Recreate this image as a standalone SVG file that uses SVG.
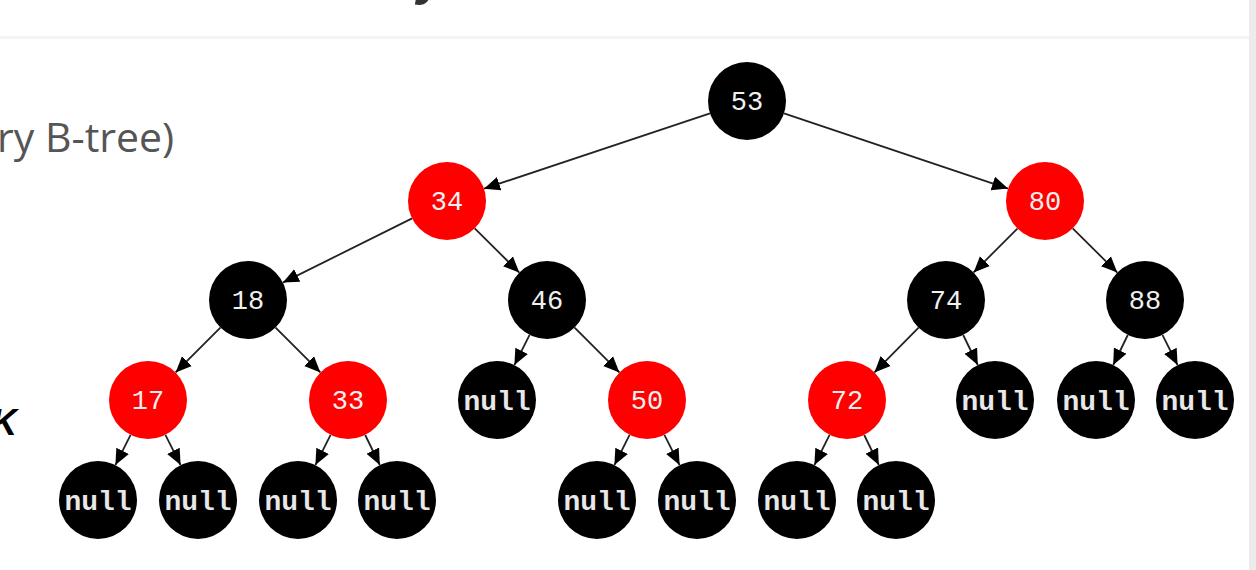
<svg xmlns="http://www.w3.org/2000/svg" width="1256" height="570" viewBox="0 0 1256 570">
<style>
.b{fill:#000}
.r{fill:#ff0000}
.t{font-family:"Liberation Mono","DejaVu Sans Mono",monospace;font-size:27px;fill:#f0f0f0;text-anchor:middle}
.n{font-family:"Liberation Mono","DejaVu Sans Mono",monospace;font-size:28px;font-weight:bold;fill:#e8e8e8;text-anchor:middle}
.e{stroke:#222;stroke-width:1.8;fill:none;marker-end:url(#ah)}
</style>
<defs>
<marker id="ah" markerUnits="userSpaceOnUse" markerWidth="16" markerHeight="16" refX="16" refY="8" orient="auto">
<path d="M0,1 L16,8 L0,15 z" fill="#000"/>
</marker>
</defs>
<rect x="0" y="0" width="1256" height="570" fill="#fff"/>
<rect x="0" y="36" width="1249" height="3" fill="#f4f4f4"/>
<rect x="1249" y="0" width="7" height="570" fill="#ececec"/>
<text x="417" y="-6" font-family="Liberation Sans,Arial,sans-serif" font-size="52" font-weight="bold" font-style="italic" fill="#333">y</text>
<text x="-3" y="152" font-family="Open Sans,Noto Sans,sans-serif" font-size="41" fill="#555">ry B-tree)</text>
<text x="17" y="435" font-family="Liberation Sans,Arial,sans-serif" font-size="36" font-weight="bold" font-style="italic" fill="#000" text-anchor="end">K</text>
<g id="connectors">
<line class="e" x1="710" y1="113.3" x2="484" y2="188.7"/>
<line class="e" x1="784" y1="113.4" x2="1008" y2="188.6"/>
<line class="e" x1="412.1" y1="218.4" x2="282.9" y2="282.6"/>
<line class="e" x1="474.7" y1="228.4" x2="519.3" y2="272.6"/>
<line class="e" x1="1017.4" y1="228.6" x2="973.6" y2="272.4"/>
<line class="e" x1="1072.7" y1="228.4" x2="1117.3" y2="272.6"/>
<line class="e" x1="220.4" y1="327.6" x2="175.6" y2="372.4"/>
<line class="e" x1="275.6" y1="327.6" x2="320.4" y2="372.4"/>
<line class="e" x1="529.6" y1="334.9" x2="514.4" y2="365.1"/>
<line class="e" x1="574.6" y1="327.6" x2="619.4" y2="372.4"/>
<line class="e" x1="918.6" y1="327.6" x2="874.4" y2="372.4"/>
<line class="e" x1="963.2" y1="335" x2="977.8" y2="365"/>
<line class="e" x1="1127.8" y1="335" x2="1113.2" y2="365"/>
<line class="e" x1="1162.4" y1="334.9" x2="1177.6" y2="365.1"/>
<line class="e" x1="130.6" y1="434.9" x2="115.4" y2="465.1"/>
<line class="e" x1="165.4" y1="434.9" x2="180.6" y2="465.1"/>
<line class="e" x1="330.6" y1="434.9" x2="315.4" y2="465.1"/>
<line class="e" x1="365.2" y1="435" x2="379.8" y2="465"/>
<line class="e" x1="629.6" y1="434.9" x2="614.4" y2="465.1"/>
<line class="e" x1="664.4" y1="434.9" x2="679.6" y2="465.1"/>
<line class="e" x1="829.6" y1="434.9" x2="814.4" y2="465.1"/>
<line class="e" x1="864.2" y1="435" x2="878.8" y2="465"/>
</g>
<g id="n53"><circle class="b" cx="747" cy="101" r="39"/><text class="t" x="747" y="110">53</text></g>
<g id="n34"><circle class="r" cx="447" cy="201" r="39"/><text class="t" x="447" y="210">34</text></g>
<g id="n80"><circle class="r" cx="1045" cy="201" r="39"/><text class="t" x="1045" y="210">80</text></g>
<g id="n18"><circle class="b" cx="248" cy="300" r="39"/><text class="t" x="248" y="309">18</text></g>
<g id="n46"><circle class="b" cx="547" cy="300" r="39"/><text class="t" x="547" y="309">46</text></g>
<g id="n74"><circle class="b" cx="946" cy="300" r="39"/><text class="t" x="946" y="309">74</text></g>
<g id="n88"><circle class="b" cx="1145" cy="300" r="39"/><text class="t" x="1145" y="309">88</text></g>
<g id="n17"><circle class="r" cx="148" cy="400" r="39"/><text class="t" x="148" y="409">17</text></g>
<g id="n33"><circle class="r" cx="348" cy="400" r="39"/><text class="t" x="348" y="409">33</text></g>
<g id="null46L"><circle class="b" cx="497" cy="400" r="39"/><text class="n" x="497" y="410">null</text></g>
<g id="n50"><circle class="r" cx="647" cy="400" r="39"/><text class="t" x="647" y="409">50</text></g>
<g id="n72"><circle class="r" cx="847" cy="400" r="39"/><text class="t" x="847" y="409">72</text></g>
<g id="null74R"><circle class="b" cx="995" cy="400" r="39"/><text class="n" x="995" y="410">null</text></g>
<g id="null88L"><circle class="b" cx="1096" cy="400" r="39"/><text class="n" x="1096" y="410">null</text></g>
<g id="null88R"><circle class="b" cx="1195" cy="400" r="39"/><text class="n" x="1195" y="410">null</text></g>
<g id="null17L"><circle class="b" cx="98" cy="500" r="39"/><text class="n" x="98" y="510">null</text></g>
<g id="null17R"><circle class="b" cx="198" cy="500" r="39"/><text class="n" x="198" y="510">null</text></g>
<g id="null33L"><circle class="b" cx="298" cy="500" r="39"/><text class="n" x="298" y="510">null</text></g>
<g id="null33R"><circle class="b" cx="397" cy="500" r="39"/><text class="n" x="397" y="510">null</text></g>
<g id="null50L"><circle class="b" cx="597" cy="500" r="39"/><text class="n" x="597" y="510">null</text></g>
<g id="null50R"><circle class="b" cx="697" cy="500" r="39"/><text class="n" x="697" y="510">null</text></g>
<g id="null72L"><circle class="b" cx="797" cy="500" r="39"/><text class="n" x="797" y="510">null</text></g>
<g id="null72R"><circle class="b" cx="896" cy="500" r="39"/><text class="n" x="896" y="510">null</text></g>
</svg>
